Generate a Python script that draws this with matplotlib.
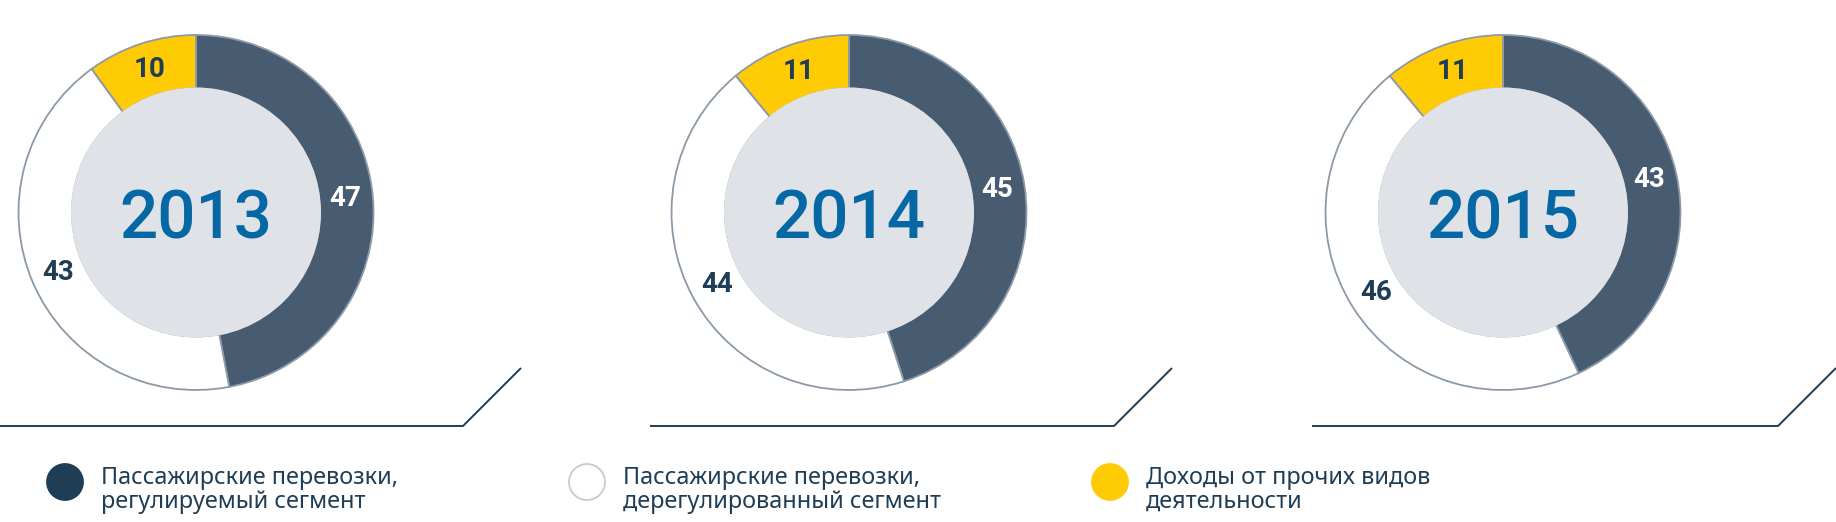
import matplotlib.pyplot as plt
from matplotlib.patches import Circle

years = ["2013", "2014", "2015"]
regulated = [47, 45, 43]
deregulated = [43, 44, 46]
other = [10, 11, 11]

legend_labels = ["Пассажирские перевозки,\nрегулируемый сегмент",
                 "Пассажирские перевозки,\nдерегулированный сегмент",
                 "Доходы от прочих видов\nдеятельности"]

dark = "#475c70"
yellow = "#ffcb05"
edge = "#8c99a8"
navy = "#1f3d54"
grey = "#dfe2e6"
blue = "#0567a3"

W, H = 1836, 522
fig = plt.figure(figsize=(W / 100, H / 100), dpi=100)
ax = fig.add_axes([0, 0, 1, 1])

centers_x = [196, 849, 1503]
cy = H - 212.5
R = 177.5
r_in = 124

for i, year in enumerate(years):
    vals = [regulated[i], deregulated[i], other[i]]
    wedges, texts, autotexts = ax.pie(
        vals, radius=R, center=(centers_x[i], cy), startangle=90,
        counterclock=False, colors=[dark, "white", yellow],
        wedgeprops=dict(width=R - r_in, edgecolor=edge, linewidth=1.3),
        autopct=lambda p: "%d" % round(p), pctdistance=0.845,
        textprops=dict(fontsize=20, fontweight="bold", family="Roboto", color=navy),
        frame=True)
    autotexts[0].set_color("white")
    ax.add_patch(Circle((centers_x[i], cy), r_in + 1, facecolor=grey, edgecolor="none", zorder=3))
    ax.text(centers_x[i], cy - 26, year, ha="center", va="baseline", fontsize=48.5,
            family="Roboto", fontweight="medium", color=blue, zorder=4)

ax.set_xlim(0, W)
ax.set_ylim(0, H)
ax.set_aspect("equal")
ax.axis("off")

# baselines under each donut
lines = [([0, 463, 521], [426, 426, 368]),
         ([650, 1114, 1172], [426, 426, 368]),
         ([1312, 1778, 1836], [426, 426, 368])]
for xs, ys in lines:
    ax.plot(xs, [H - y for y in ys], color=navy, linewidth=1.4, solid_capstyle="butt")

# legend
leg_x = [65, 587, 1110]
leg_colors = [navy, "white", yellow]
leg_edges = [navy, "#c5cad3", yellow]
for i, lab in enumerate(legend_labels):
    ax.add_patch(Circle((leg_x[i], H - 482), 18, facecolor=leg_colors[i],
                        edgecolor=leg_edges[i], linewidth=1.3))
    ax.text(leg_x[i] + 36, H - 490, lab, ha="left", va="center", fontsize=16.9,
            family="Noto Sans", color=navy, linespacing=1.0)

fig.savefig("out.png", dpi=100)
